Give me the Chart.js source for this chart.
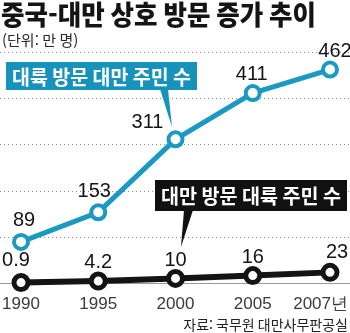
<!DOCTYPE html>
<html lang="ko">
<head>
<meta charset="utf-8">
<script src="https://cdn.jsdelivr.net/npm/chart.js@4/dist/chart.umd.min.js"></script>
<style>
  html, body { margin: 0; padding: 0; background: #fff; }
  #wrap { width: 350px; height: 333px; position: relative; }
</style>
</head>
<body>
<div id="wrap"><canvas id="visits" width="350" height="333"></canvas></div>
<script>
// Visitor counts, unit: 10,000 people
const years = ['1990', '1995', '2000', '2005', '2007년'];
const taiwanToMainland = [89, 153, 311, 411, 462];   // 대륙 방문 대만 주민 수
const mainlandToTaiwan = [0.9, 4.2, 10, 16, 23];     // 대만 방문 대륙 주민 수
const valueLabels = {
    blue: ['89', '153', '311', '411', '462'],
    black: ['0.9', '4.2', '10', '16', '23']
};
const gridValues = [100, 200, 300, 400, 500];

const BLUE = '#1a9ac2';
const BLUE_BOX = '#1792ba';
const INK = '#141414';
const KR = '"Noto Sans CJK KR", "Noto Sans", sans-serif';
const NUM = '"Liberation Sans Narrow", "Liberation Sans", Arial, sans-serif';

// nudges for value labels that don't sit straight above their point
const labelShift = {
    blue: [[3, -21], [-4, -21], [-28, -17], [-1, -19], [5, -18]],
    black: [[-5, -22], [0, -19], [0, -18], [0, -18], [7, -20]]
};

function callout(ctx, box, tail, fill, text) {
    ctx.save();
    ctx.fillStyle = fill;
    ctx.fillRect(box.x, box.y, box.w, box.h);
    ctx.beginPath();
    ctx.moveTo(tail[0][0], tail[0][1]);
    ctx.lineTo(tail[1][0], tail[1][1]);
    ctx.lineTo(tail[2][0], tail[2][1]);
    ctx.closePath();
    ctx.fill();
    ctx.fillStyle = '#fff';
    ctx.font = 'bold 20px ' + KR;
    ctx.textAlign = 'center';
    ctx.textBaseline = 'middle';
    ctx.fillText(text, box.x + box.w / 2, box.y + box.h / 2 + 1, box.w - 12);
    ctx.restore();
}

const decorations = {
    id: 'decorations',
    beforeDatasetsDraw(chart) {
        const ctx = chart.ctx;
        const y = chart.scales.y;
        ctx.save();
        // dotted guides
        ctx.strokeStyle = '#8a8a8a';
        ctx.lineWidth = 1;
        ctx.setLineDash([1, 3]);
        gridValues.forEach(v => {
            const py = Math.round(y.getPixelForValue(v)) + 0.5;
            ctx.beginPath();
            ctx.moveTo(0, py);
            ctx.lineTo(350, py);
            ctx.stroke();
        });
        // solid baseline
        ctx.setLineDash([]);
        ctx.strokeStyle = '#9a9a9a';
        const base = Math.round(y.getPixelForValue(0)) + 0.5;
        ctx.beginPath();
        ctx.moveTo(0, base);
        ctx.lineTo(350, base);
        ctx.stroke();
        ctx.restore();
    },
    afterDraw(chart) {
        const ctx = chart.ctx;
        const x = chart.scales.x;
        const y = chart.scales.y;
        ctx.save();

        // title + unit
        ctx.fillStyle = INK;
        ctx.textAlign = 'left';
        ctx.textBaseline = 'alphabetic';
        ctx.font = '900 27px ' + KR;
        ctx.fillText('중국-대만 상호 방문 증가 추이', 1, 25, 315);
        ctx.fillStyle = '#2a2a2a';
        ctx.font = '15px ' + KR;
        ctx.fillText('(단위: 만 명)', 2, 46, 86);

        // value labels
        ctx.fillStyle = INK;
        ctx.font = '20px ' + NUM;
        ctx.textAlign = 'center';
        ctx.textBaseline = 'middle';
        ['blue', 'black'].forEach((key, di) => {
            const meta = chart.getDatasetMeta(di);
            meta.data.forEach((pt, i) => {
                const [dx, dy] = labelShift[key][i];
                ctx.fillText(valueLabels[key][i], pt.x + dx, pt.y + dy);
            });
        });

        // year labels under the baseline
        ctx.fillStyle = '#3a3a3a';
        ctx.font = '17px "Liberation Sans", Arial, sans-serif';
        const ly = y.getPixelForValue(0) + 21;
        years.forEach((label, i) => {
            const px = x.getPixelForValue(i);
            if (i === years.length - 1) {
                ctx.textAlign = 'right';
                ctx.fillText(label, 348, ly);
            } else {
                ctx.textAlign = 'center';
                ctx.fillText(label, px, ly);
            }
        });

        // series callouts
        callout(ctx, { x: 6, y: 62, w: 191, h: 28 },
            [[160, 89], [168, 89], [172, 127]], BLUE_BOX, '대륙 방문 대만 주민 수');
        callout(ctx, { x: 155, y: 180, w: 192, h: 31 },
            [[184, 210], [193, 210], [181, 247]], '#111', '대만 방문 대륙 주민 수');

        // source
        ctx.fillStyle = '#222';
        ctx.font = '14px ' + KR;
        ctx.textAlign = 'right';
        ctx.textBaseline = 'middle';
        ctx.fillText('자료: 국무원 대만사무판공실', 348, 325, 170);
        ctx.restore();
    }
};

new Chart(document.getElementById('visits'), {
    type: 'line',
    data: {
        labels: years,
        datasets: [{
            data: taiwanToMainland,
            borderColor: BLUE,
            borderWidth: 5,
            pointRadius: 7,
            pointBorderWidth: 4,
            pointBackgroundColor: '#fff',
            pointBorderColor: BLUE,
            tension: 0,
            clip: false
        }, {
            data: mainlandToTaiwan,
            borderColor: INK,
            borderWidth: 6,
            pointRadius: 7,
            pointBorderWidth: 5,
            pointBackgroundColor: '#fff',
            pointBorderColor: INK,
            tension: 0,
            clip: false
        }]
    },
    options: {
        responsive: false,
        animation: false,
        events: [],
        layout: { padding: { left: 21, right: 20, top: 52, bottom: 50 } },
        plugins: { legend: { display: false }, tooltip: { enabled: false } },
        scales: {
            x: { display: false, offset: false },
            y: { display: false, min: 0, max: 500 }
        }
    },
    plugins: [decorations]
});
</script>
</body>
</html>
